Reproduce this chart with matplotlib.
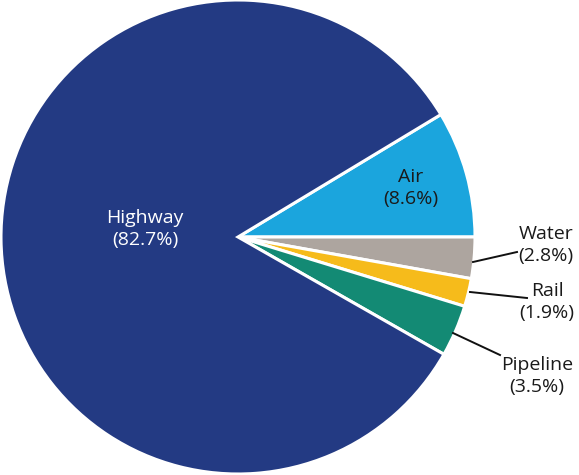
import numpy as np
import matplotlib
matplotlib.use("Agg")
import matplotlib.pyplot as plt

categories = ["Air", "Water", "Rail", "Pipeline", "Highway"]
shares = [8.6, 2.8, 1.9, 3.5, 82.7]
colors = ["#1BA5DD", "#ADA59F", "#F6BB1B", "#138A74", "#233A83"]

plt.rcParams['font.family'] = ['Open Sans', 'DejaVu Sans']

W, H = 579, 475
fig = plt.figure(figsize=(W / 100, H / 100), dpi=100)
R = 237
cx, cy = 238, 237
ax = fig.add_axes([(cx - R) / W, (H - cy - R) / H, 2 * R / W, 2 * R / H])

start = shares[0] / sum(shares) * 360
wedges, _ = ax.pie(shares, colors=colors, startangle=start, counterclock=False,
                   radius=1.0, wedgeprops=dict(edgecolor="white", linewidth=2.2))
ax.set_xlim(-1, 1)
ax.set_ylim(-1, 1)
ax.set_aspect("equal")
ax.axis("off")

def d(px, py):
    return (px - cx) / R, (cy - py) / R

fs = 14
ls = 1.35

def label(px, py, text, color):
    x, y = d(px, py)
    ax.text(x, y, text, ha="center", va="center", fontsize=fs, color=color,
            linespacing=ls, clip_on=False)

label(411, 188, f"{categories[0]}\n({shares[0]}%)", "#1a1a1a")
label(145, 229, f"{categories[4]}\n({shares[4]}%)", "white")

# outside labels with leader lines
outside = [
    (1, (473, 262), (517, 252), (546, 245)),
    (2, (470, 292), (527, 298), (547, 302)),
    (3, (453, 333), (500, 355), (537, 376)),
]
for i, p0, p1, pt in outside:
    x0, y0 = d(*p0)
    x1, y1 = d(*p1)
    ax.plot([x0, x1], [y0, y1], color="#111111", lw=1.4, clip_on=False)
    label(pt[0], pt[1], f"{categories[i]}\n({shares[i]}%)", "#1a1a1a")

fig.savefig("out.png", dpi=100, facecolor="white")
